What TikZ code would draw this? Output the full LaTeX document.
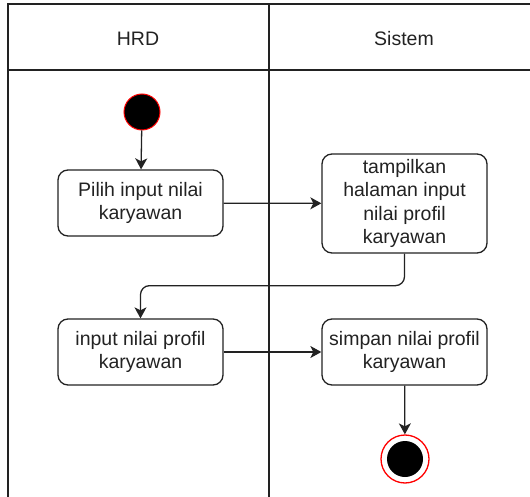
\documentclass[tikz,border=0pt]{standalone}
\usepackage{fontspec}
\setmainfont{Liberation Sans}
\usetikzlibrary{arrows.meta}
\definecolor{ink}{HTML}{222222}
\begin{document}
\begin{tikzpicture}[x=1pt,y=-1pt,
  lane/.style={draw=ink, line width=1.4pt},
  label/.style={font=\fontsize{19.5pt}{23.3pt}\selectfont, text=ink},
  action/.style={draw=ink, line width=1.3pt, rounded corners=10pt,
    minimum width=165pt, minimum height=66pt, inner sep=2pt, align=center,
    font=\fontsize{19.5pt}{23.3pt}\selectfont, text=ink},
  flow/.style={draw=ink, line width=1.3pt,
    -{Stealth[length=11pt, width=12pt, inset=3pt]}},
  startnode/.style={circle, fill=black, draw=red, line width=1pt,
    minimum size=36pt, inner sep=0pt},
  endring/.style={circle, draw=red, line width=1.3pt, fill=white,
    minimum size=48pt, inner sep=0pt},
  enddot/.style={circle, fill=black, minimum size=36pt, inner sep=0pt}]
\useasboundingbox (0,0) rectangle (530,497);

% swimlane frame
\draw[lane] (8,505) -- (8,4) -- (540,4);
\draw[lane] (8,70) -- (540,70);
\draw[lane] (269,4) -- (269,505);

% lane titles
\node[label] (hrd) at (138,39) {HRD};
\node[label] (sistem) at (404,39) {Sistem};

% activity nodes
\node[startnode] (start) at (142,112) {};
\node[action] (pilih) at (140.5,203) {Pilih input nilai\\karyawan};
\node[action, minimum height=99pt] (tampil) at (404.5,203.5)
  {tampilkan\\halaman input\\nilai profil\\karyawan};
\node[action] (input) at (140.5,352) {input nilai profil\\karyawan};
\node[action] (simpan) at (404.5,352) {simpan nilai profil\\karyawan};
\node[endring] (end) at (405,459) {};
\node[enddot] (enddot) at (end) {};

% control flow
\draw[flow] (start) -- (pilih);
\draw[flow] (pilih) -- (tampil);
\draw[flow, rounded corners=9pt] (tampil.south) -- ++(0,32) -| (input.north);
\draw[flow] (input) -- (simpan);
\draw[flow] (simpan) -- (end);
\end{tikzpicture}
\end{document}
